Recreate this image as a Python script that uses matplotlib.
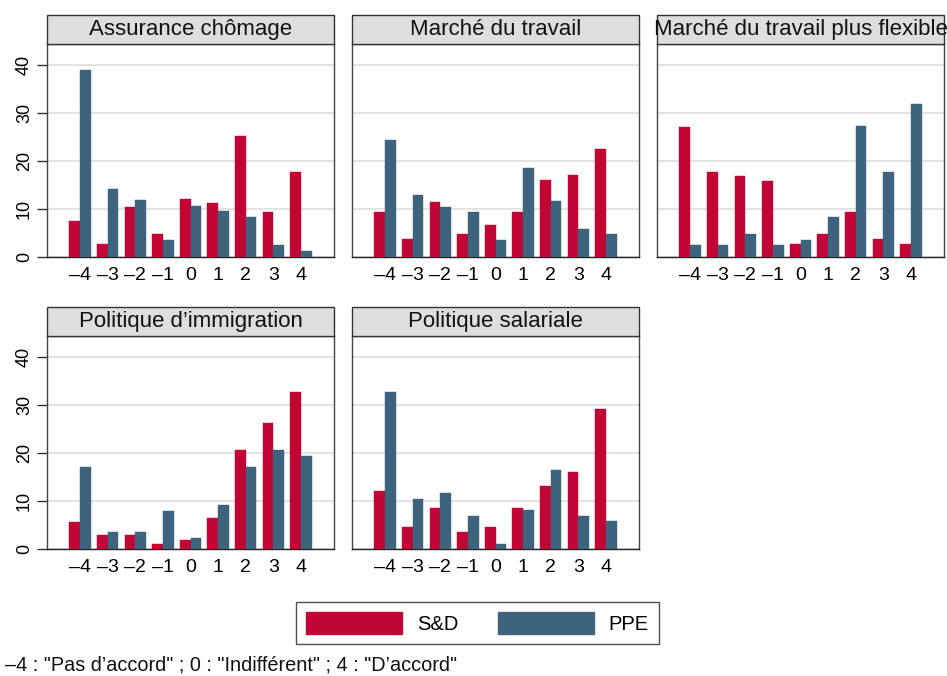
import matplotlib
matplotlib.use("Agg")
import matplotlib.pyplot as plt
from matplotlib.patches import Rectangle, Patch
import numpy as np

plt.rcParams['font.family'] = ['Liberation Sans', 'DejaVu Sans']

categories = [-4, -3, -2, -1, 0, 1, 2, 3, 4]
tick_labels = ["–4", "–3", "–2", "–1", "0", "1", "2", "3", "4"]
panel_titles = ["Assurance chômage", "Marché du travail", "Marché du travail plus flexible",
                "Politique d’immigration", "Politique salariale"]
series_names = ["S&D", "PPE"]

sd_assurance = [7.5, 2.8, 10.3, 4.7, 12.1, 11.2, 25.1, 9.4, 17.7]
ppe_assurance = [38.9, 14.1, 11.9, 3.6, 10.6, 9.5, 8.3, 2.4, 1.2]
sd_marche = [9.4, 3.8, 11.4, 4.7, 6.6, 9.4, 16.0, 17.0, 22.5]
ppe_marche = [24.3, 12.8, 10.4, 9.3, 3.5, 18.5, 11.6, 5.8, 4.7]
sd_flexible = [27.0, 17.7, 16.8, 15.8, 2.8, 4.7, 9.4, 3.7, 2.8]
ppe_flexible = [2.4, 2.4, 4.8, 2.4, 3.6, 8.3, 27.2, 17.7, 31.9]
sd_immigration = [5.7, 2.9, 2.9, 1.0, 1.9, 6.6, 20.7, 26.3, 32.8]
ppe_immigration = [17.1, 3.5, 3.5, 8.0, 2.3, 9.2, 17.1, 20.6, 19.4]
sd_salariale = [12.2, 4.7, 8.5, 3.7, 4.7, 8.5, 13.2, 16.0, 29.1]
ppe_salariale = [32.7, 10.5, 11.7, 7.0, 1.2, 8.2, 16.4, 7.0, 5.8]

sd_values = [sd_assurance, sd_marche, sd_flexible, sd_immigration, sd_salariale]
ppe_values = [ppe_assurance, ppe_marche, ppe_flexible, ppe_immigration, ppe_salariale]

note = "–4 : \"Pas d’accord\" ; 0 : \"Indifférent\" ; 4 : \"D’accord\""

RED = "#c10534"
BLUE = "#3e647d"

W, H = 947, 676
fig = plt.figure(figsize=(W / 100, H / 100), dpi=100)

lefts = [47, 352, 657, 47, 352]
bottoms = [257, 257, 257, 549.3, 549.3]
pw, ph = 287, 213.3
strip_h = 29

x = np.array(categories, dtype=float)
bw = 0.39
for i in range(5):
    ax = fig.add_axes([lefts[i] / W, 1 - bottoms[i] / H, pw / W, ph / H])
    ax.bar(x - bw / 2, sd_values[i], width=bw, color=RED, edgecolor=RED, linewidth=0.3, zorder=3)
    ax.bar(x + bw / 2, ppe_values[i], width=bw, color=BLUE, edgecolor=BLUE, linewidth=0.3, zorder=3)
    ax.set_xlim(-5.2, 5.2)
    ax.set_ylim(0, 44.35)
    ax.set_yticks([0, 10, 20, 30, 40])
    ax.yaxis.grid(True, color="#e3e3e3", linewidth=1.5, zorder=0)
    ax.set_axisbelow(True)
    ax.set_xticks(categories)
    ax.set_xticklabels(tick_labels, fontsize=14)
    ax.tick_params(axis='x', length=0, pad=7)
    if i in (0, 3):
        ax.set_yticklabels(["0", "10", "20", "30", "40"], rotation=90, va='center', fontsize=13)
        ax.tick_params(axis='y', length=7, width=1, pad=3, color="#333333")
    else:
        ax.tick_params(axis='y', length=0, labelleft=False)
    for s in ax.spines.values():
        s.set_color("#444444")
        s.set_linewidth(1.0)
    ax.spines['bottom'].set_color("#222222")
    # title strip
    sh = strip_h / ph
    rect = Rectangle((0, 1), 1, sh, transform=ax.transAxes, facecolor="#dedede",
                     edgecolor="#333333", linewidth=1.0, clip_on=False, zorder=5)
    ax.add_patch(rect)
    ax.text(0.5, 1 + sh / 2, panel_titles[i], transform=ax.transAxes, ha='center', va='center',
            fontsize=16, color="#111111", zorder=6)

handles = [Patch(facecolor=RED, edgecolor=RED), Patch(facecolor=BLUE, edgecolor=BLUE)]
leg = fig.legend(handles, series_names, loc='center', bbox_to_anchor=(477.5 / W, 1 - 623 / H),
                 ncol=2, fontsize=14.5, frameon=True, fancybox=False, edgecolor="#222222",
                 handlelength=4.77, handleheight=1.3, handletextpad=0.75, columnspacing=1.94,
                 borderpad=0.5, borderaxespad=0)
leg.get_frame().set_linewidth(1.0)

fig.text(5 / W, 1 - 665 / H, note, ha='left', va='center', fontsize=14.3, color="#111111")

fig.savefig("out.png", dpi=100)
